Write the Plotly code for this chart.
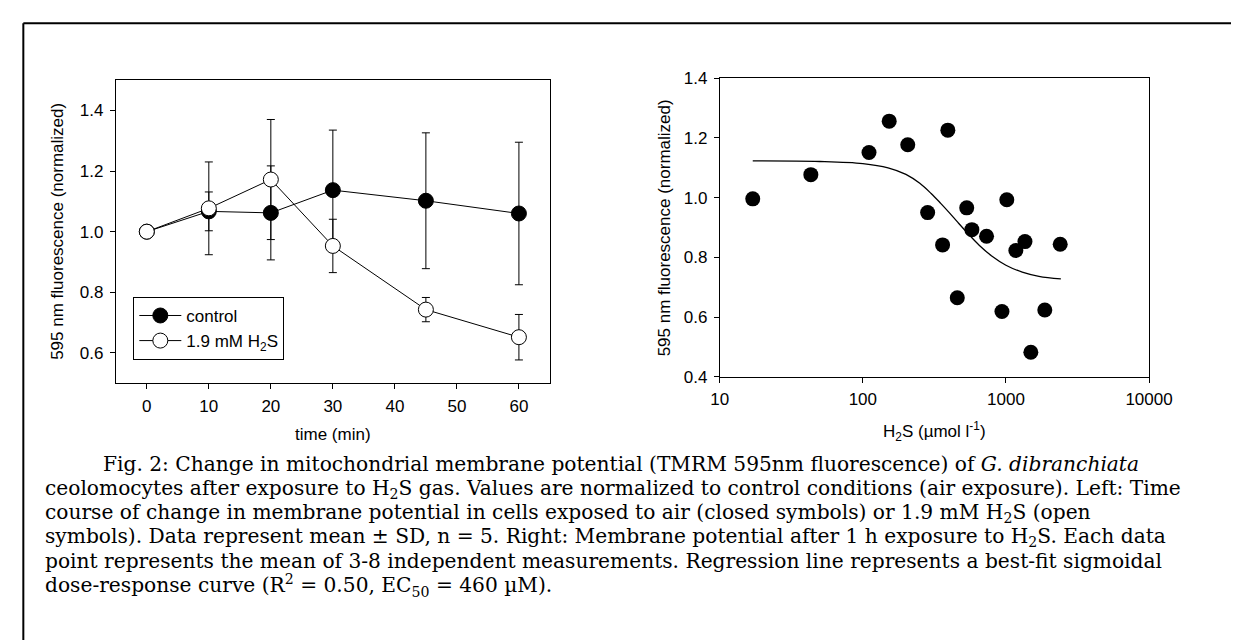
import plotly.graph_objects as go

# ---- Left panel: time course ----
time_min = [0, 10, 20, 30, 45, 60]
control_mean = [1.000, 1.067, 1.062, 1.137, 1.102, 1.060]
control_sd = [0.0, 0.064, 0.155, 0.198, 0.224, 0.235]
h2s_mean = [1.000, 1.077, 1.172, 0.953, 0.743, 0.652]
h2s_sd = [0.0, 0.153, 0.198, 0.088, 0.040, 0.075]

# ---- Right panel: dose response ----
dose_umol = [17.0, 43.3, 110.4, 152.8, 206, 283.7, 360.8, 392.6, 457, 532,
             578, 732, 938, 1014, 1173, 1358, 1493, 1869, 2395]
dose_resp = [0.996, 1.077, 1.151, 1.256, 1.177, 0.950, 0.842, 1.226, 0.665, 0.966,
             0.893, 0.871, 0.619, 0.993, 0.823, 0.853, 0.483, 0.624, 0.844]
# fitted sigmoidal curve
fit_x = [17, 50, 100, 150, 200, 250, 300, 350, 400, 460, 550, 650, 800, 1000, 1300, 1700, 2420]
fit_y = [1.123, 1.121, 1.114, 1.100, 1.078, 1.048, 1.014, 0.981, 0.951, 0.918, 0.877,
         0.841, 0.804, 0.774, 0.751, 0.737, 0.728]

left_xticks = [0, 10, 20, 30, 40, 50, 60]
left_yticks = [0.6, 0.8, 1.0, 1.2, 1.4]
right_xticks = [10, 100, 1000, 10000]
right_yticks = [0.4, 0.6, 0.8, 1.0, 1.2, 1.4]

caption_lines = [
    "Fig. 2: Change in mitochondrial membrane potential (TMRM 595nm fluorescence) of <i>G. dibranchiata</i>",
    "ceolomocytes after exposure to H<sub>2</sub>S gas. Values are normalized to control conditions (air exposure). Left: Time",
    "course of change in membrane potential in cells exposed to air (closed symbols) or 1.9 mM H<sub>2</sub>S (open",
    "symbols). Data represent mean ± SD, n = 5. Right: Membrane potential after 1 h exposure to H<sub>2</sub>S. Each data",
    "point represents the mean of 3-8 independent measurements. Regression line represents a best-fit sigmoidal",
    "dose-response curve (R<sup>2</sup> = 0.50, EC<sub>50</sub> = 460 µM).",
]

W, H = 1239, 640
SANS = "Liberation Sans, Arial, sans-serif"
SERIF = "DejaVu Serif, Liberation Serif, serif"
FS = 17

def px(x):
    return x / W

def py(y):
    return 1 - y / H

fig = go.Figure()

fig.add_trace(go.Scatter(
    x=time_min, y=control_mean, name="control", mode="lines+markers",
    line=dict(color="black", width=1),
    marker=dict(symbol="circle", size=15, color="black", line=dict(color="black", width=1)),
    error_y=dict(type="data", array=control_sd, color="black", thickness=1, width=4),
    xaxis="x", yaxis="y",
))
fig.add_trace(go.Scatter(
    x=time_min, y=h2s_mean, name="1.9 mM H<sub>2</sub>S", mode="lines+markers",
    line=dict(color="black", width=1),
    marker=dict(symbol="circle", size=15, color="white", line=dict(color="black", width=1)),
    error_y=dict(type="data", array=h2s_sd, color="black", thickness=1, width=4),
    xaxis="x", yaxis="y",
))

fig.add_trace(go.Scatter(
    x=fit_x, y=fit_y, mode="lines", line=dict(color="black", width=1.3, shape="spline"),
    showlegend=False, xaxis="x2", yaxis="y2",
))
fig.add_trace(go.Scatter(
    x=dose_umol, y=dose_resp, mode="markers",
    marker=dict(symbol="circle", size=15, color="black"),
    showlegend=False, xaxis="x2", yaxis="y2",
))

axis_common = dict(
    showline=True, linecolor="black", linewidth=1, mirror=True,
    ticks="outside", ticklen=5, tickwidth=1, tickcolor="black",
    showgrid=False, zeroline=False,
    tickfont=dict(family=SANS, size=FS, color="black"),
)

fig.update_layout(
    width=W, height=H,
    margin=dict(l=0, r=0, t=0, b=0),
    paper_bgcolor="white", plot_bgcolor="white",
    font=dict(family=SANS, size=FS, color="black"),
    xaxis=dict(domain=[px(101.5), px(547.5)], range=[-5, 65], tickvals=left_xticks,
               anchor="y", ticklabelstandoff=2, **axis_common),
    yaxis=dict(domain=[py(377.5), py(65)], range=[0.5, 1.5], tickvals=left_yticks,
               tickformat=".1f", anchor="x", ticklabelstandoff=3, **axis_common),
    xaxis2=dict(domain=[px(722), px(1163)], type="log", range=[1, 4], tickvals=right_xticks,
                ticktext=[str(v) for v in right_xticks], anchor="y2", ticklabelstandoff=2,
                **axis_common),
    yaxis2=dict(domain=[py(371), py(63)], range=[0.4, 1.4], tickvals=right_yticks,
                tickformat=".1f", anchor="x2", ticklabelstandoff=3, **axis_common),
    legend=dict(x=px(119.5), y=py(288.5), xanchor="left", yanchor="top",
                bordercolor="black", borderwidth=1, bgcolor="white",
                font=dict(family=SANS, size=FS, color="black"),
                tracegroupgap=0, itemwidth=42),
    showlegend=True,
)

# axis titles
annots = [
    dict(text="time (min)", x=px(324.5), y=py(430), xanchor="center", yanchor="middle"),
    dict(text="595 nm fluorescence (normalized)", x=px(41.5), y=py(221), textangle=-90,
         xanchor="center", yanchor="middle"),
    dict(text="H<sub>2</sub>S (µmol l<sup>-1</sup>)", x=px(942.5), y=py(427),
         xanchor="center", yanchor="middle"),
    dict(text="595 nm fluorescence (normalized)", x=px(665.5), y=py(217), textangle=-90,
         xanchor="center", yanchor="middle"),
]
for a in annots:
    fig.add_annotation(xref="paper", yref="paper", showarrow=False,
                       font=dict(family=SANS, size=FS, color="black"), **a)

# caption
cap_y0 = 461
cap_dy = 25
for i, line in enumerate(caption_lines):
    fig.add_annotation(xref="paper", yref="paper", showarrow=False,
                       text=line, x=px(86 if i == 0 else 27), y=py(cap_y0 + i * cap_dy),
                       xanchor="left", yanchor="middle", align="left",
                       font=dict(family=SERIF, size=20.2, color="black"))

# outer frame (left and top edges visible)
fig.add_shape(type="line", xref="paper", yref="paper",
              x0=px(6.5), x1=px(6.5), y0=-0.02, y1=py(6.5),
              line=dict(color="black", width=2))
fig.add_shape(type="line", xref="paper", yref="paper",
              x0=px(6.5), x1=1.02, y0=py(6.5), y1=py(6.5),
              line=dict(color="black", width=2))

fig.write_html("out.html")
